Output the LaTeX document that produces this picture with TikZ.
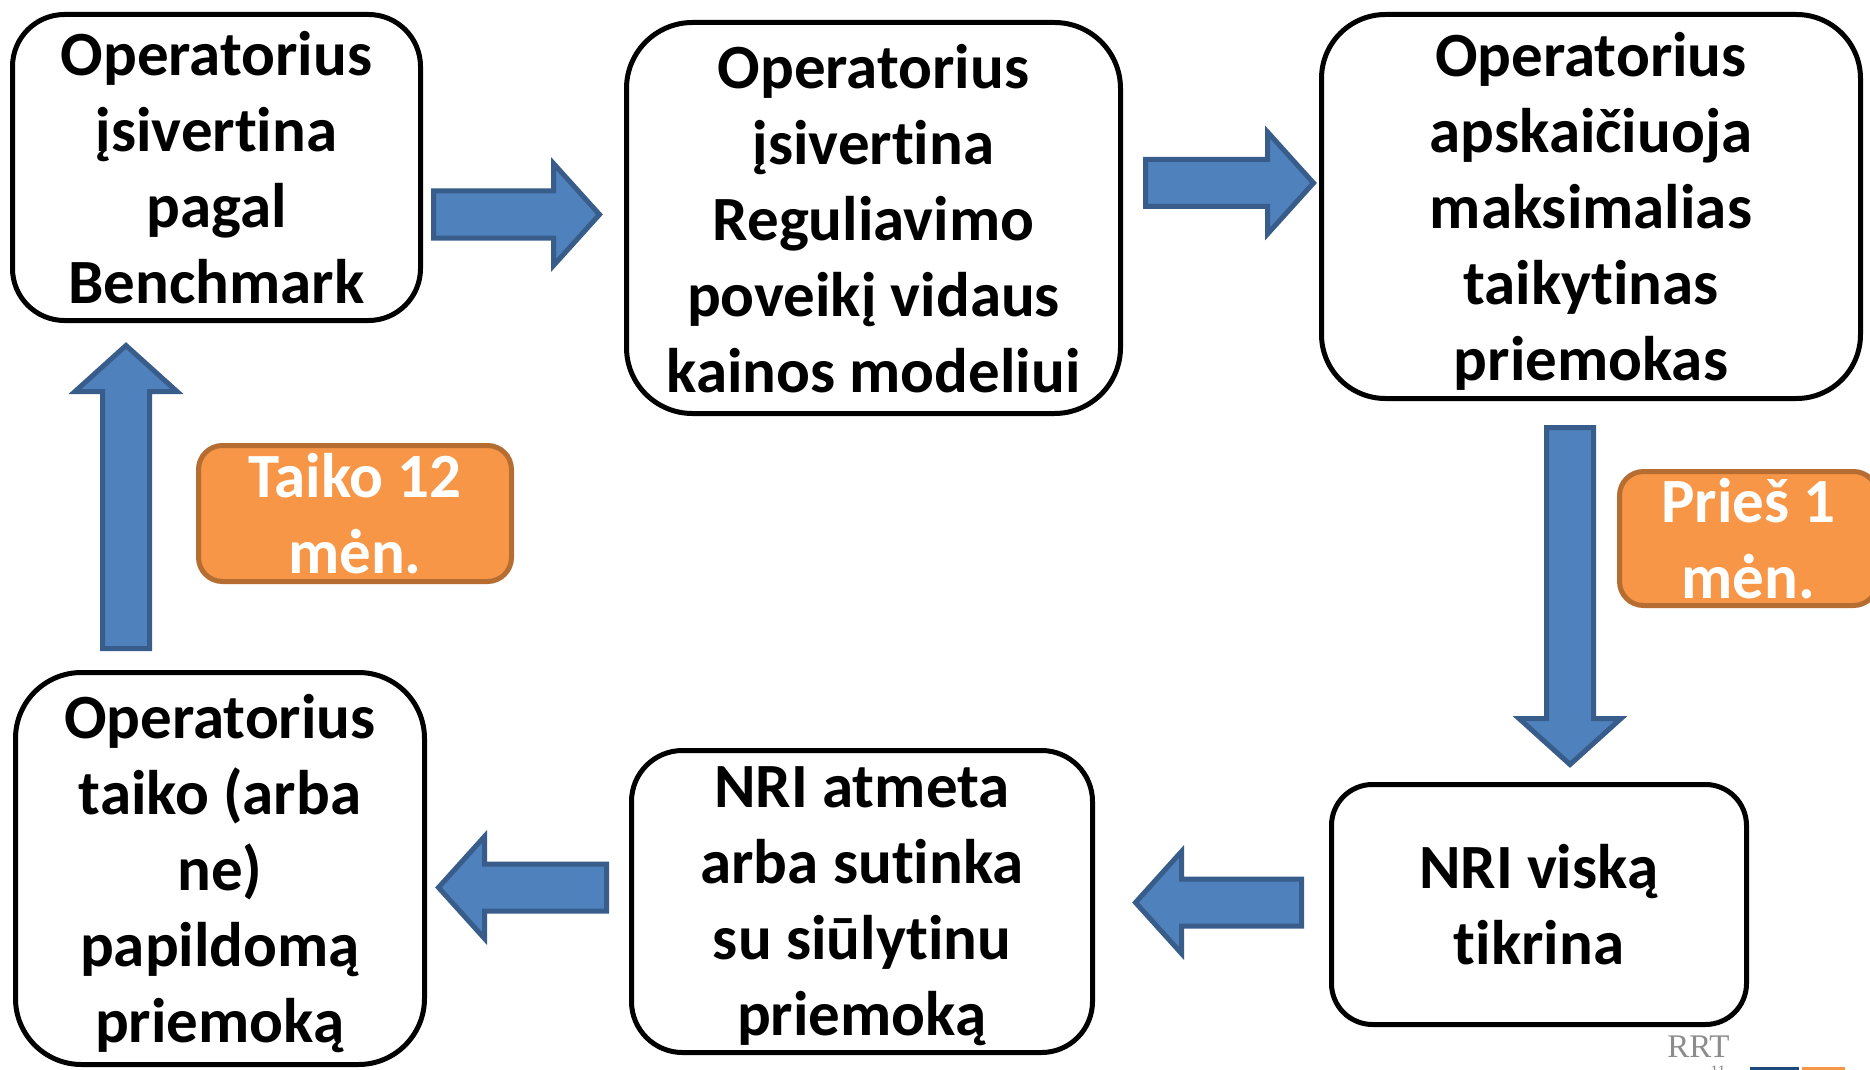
\documentclass[tikz,border=0pt]{standalone}
\usepackage{fontspec}
\setmainfont{Carlito}[Ligatures=NoCommon]
\newfontfamily\rrtfont{Liberation Serif}
\definecolor{arrowfill}{HTML}{4F81BD}
\definecolor{arrowedge}{HTML}{385D8A}
\definecolor{orangefill}{HTML}{F79646}
\definecolor{orangeedge}{HTML}{B66D31}
\definecolor{rrtgray}{HTML}{8C8C8C}
\definecolor{barblue}{HTML}{1F497D}
\newcommand\blockarr[4]{%
  \begin{scope}[shift={(#1,#2)},rotate=#4]
    \filldraw[barrow] (2.5,-23.5) -- ({#3-49.5},-23.5) -- ({#3-49.5},-51) -- ({#3-3.5},0) -- ({#3-49.5},51) -- ({#3-49.5},23.5) -- (2.5,23.5) -- cycle;
  \end{scope}}
\begin{document}
\begin{tikzpicture}[x=0.5pt,y=-0.5pt,
  stepbox/.style={draw=black, line width=2.5pt, fill=white, rounded corners=#1,
    align=center, inner sep=0pt, text=black, text depth=0pt,
    font=\fontsize{31.5pt}{38pt}\selectfont\bfseries},
  notebox/.style={draw=orangeedge, line width=2.5pt, fill=orangefill, rounded corners=12pt,
    align=center, inner sep=0pt, text=white, text depth=0pt,
    font=\fontsize{31.5pt}{38pt}\selectfont\bfseries},
  barrow/.style={fill=arrowfill, draw=arrowedge, line width=2.5pt}
]
\useasboundingbox (0,0) rectangle (1870,1070);
\fill[white] (0,0) rectangle (1870,1070);

% boxes
\node[stepbox=26pt, minimum width=204pt, minimum height=153pt] (b1) at (216.5,167.5)
  {Operatorius\\ įsivertina\\ pagal\\ Benchmark};
\node[stepbox=33pt, minimum width=247pt, minimum height=195.5pt] (b2) at (873.5,218)
  {Operatorius\\ įsivertina\\ Reguliavimo\\ poveikį vidaus\\ kainos modeliui};
\node[stepbox=32pt, minimum width=269.5pt, minimum height=192pt] (b3) at (1591,206.5)
  {Operatorius\\ apskaičiuoja\\ maksimalias\\ taikytinas\\ priemokas};
\node[stepbox=20.5pt, minimum width=207.5pt, minimum height=120pt] (b4) at (1539,904.5)
  {NRI viską\\ tikrina};
\node[stepbox=25.5pt, minimum width=230.5pt, minimum height=151pt] (b5) at (862,901.5)
  {NRI atmeta\\ arba sutinka\\ su siūlytinu\\ priemoką};
\node[stepbox=33pt, minimum width=204.5pt, minimum height=196pt] (b6) at (220,868.5)
  {Operatorius\\ taiko (arba\\ ne)\\ papildomą\\ priemoką};

% notes
\node[notebox, minimum width=156.5pt, minimum height=68pt] (n1) at (355,513.5) {Taiko 12\\ mėn.};
\node[notebox, minimum width=129pt, minimum height=67pt] (n2) at (1748.5,538.5) {Prieš 1\\ mėn.};

% block arrows
\blockarr{431}{214.5}{172}{0}
\blockarr{1143}{183}{174}{0}
\blockarr{1570}{425}{343}{-90}
\blockarr{1304}{902.5}{172}{180}
\blockarr{609}{887.5}{174}{180}
\blockarr{126}{651}{309}{90}

% slide footer remnants
\node[anchor=base west, inner sep=0pt, text=rrtgray, font=\rrtfont\fontsize{16.5pt}{18pt}\selectfont] (rrt) at (1667,1057) {RRT};
\node[anchor=north, inner sep=0pt, text=rrtgray, font=\rrtfont\fontsize{8pt}{9pt}\selectfont] (pg) at (1718,1066) {11};
\fill[barblue] (1750,1067) rectangle (1799,1072);
\fill[orangefill] (1802,1067) rectangle (1845,1072);
\end{tikzpicture}
\end{document}
